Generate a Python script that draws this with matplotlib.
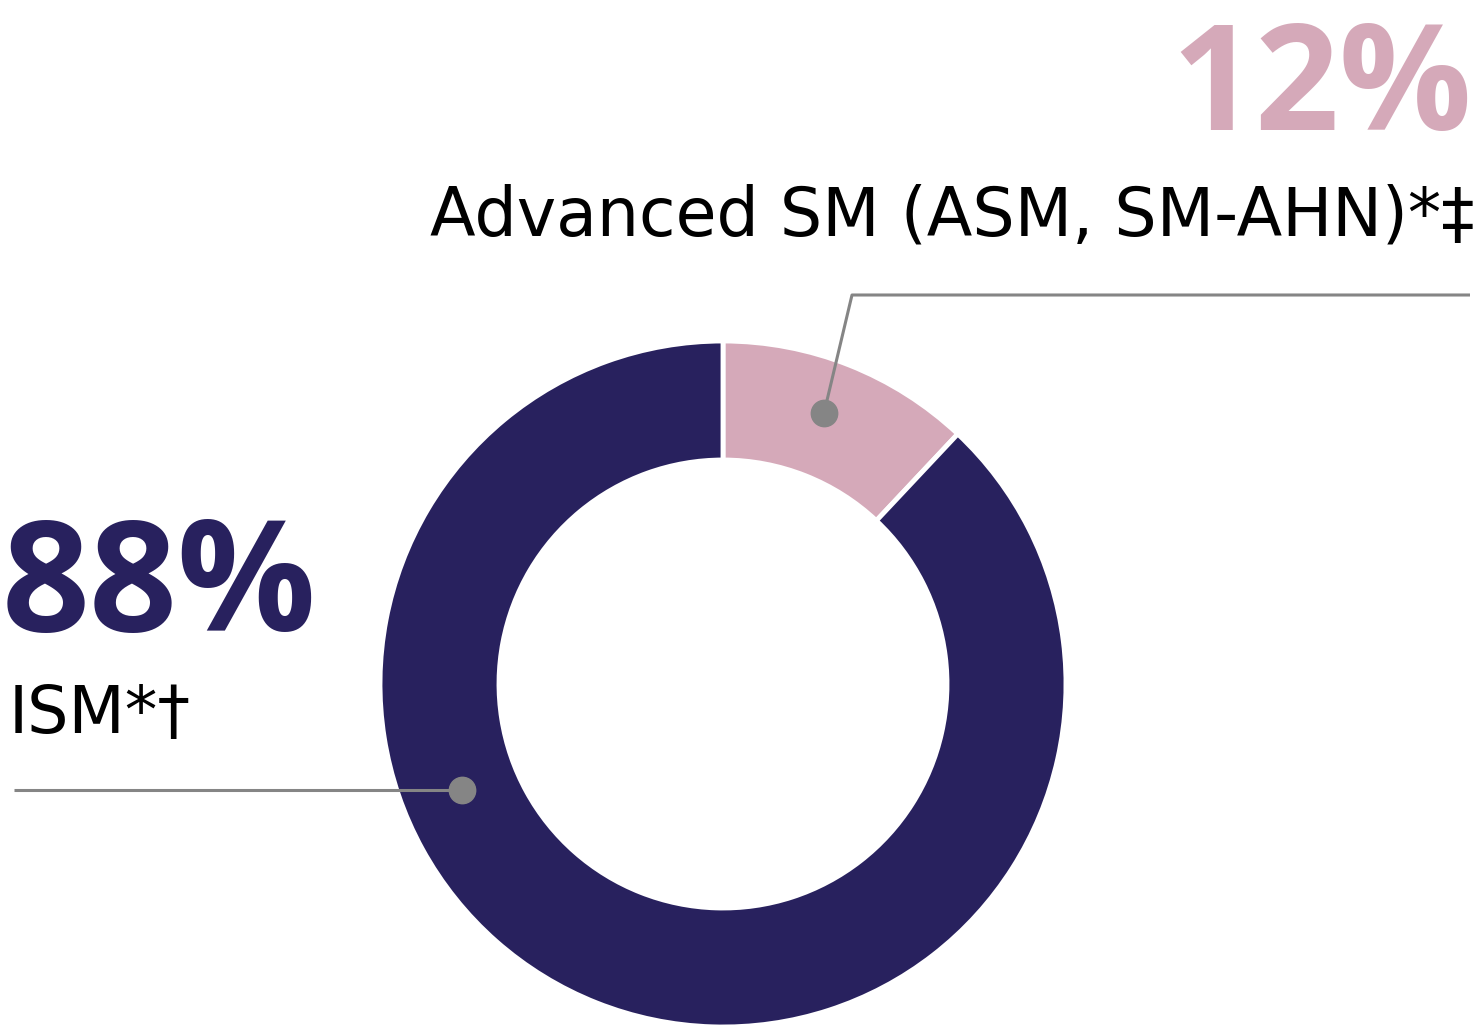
import matplotlib
matplotlib.use("Agg")
import matplotlib.pyplot as plt

categories = ["Advanced SM (ASM, SM-AHN)*‡", "ISM*†"]
values = [12, 88]
pct_labels = ["12%", "88%"]
colors = ["#d5a9b9", "#28215e"]

W, H = 1476, 1026
fig = plt.figure(figsize=(W / 100, H / 100), dpi=100)
ax = fig.add_axes([0, 0, 1, 1])

cx, cy = 723, H - 684
R, r_in = 343, 224
ax.pie(values, colors=colors, startangle=90, counterclock=False,
       center=(cx, cy), radius=R, frame=True,
       wedgeprops=dict(width=R - r_in, edgecolor="white", linewidth=3.5))
ax.set_xlim(0, W)
ax.set_ylim(0, H)
ax.set_aspect("equal")
ax.axis("off")

font = "DejaVu Sans"
pfont = ["Open Sans", "DejaVu Sans"]
# top-right labels
ax.text(1472, H - 130, pct_labels[0], ha="right", va="baseline", fontsize=106,
        fontweight="bold", color=colors[0], family=pfont)
ax.text(1474, H - 235, categories[0], ha="right", va="baseline", fontsize=48,
        color="black", family=font)
# left labels
ax.text(2, H - 631, pct_labels[1], ha="left", va="baseline", fontsize=111,
        fontweight="bold", color=colors[1], family=pfont)
ax.text(9, H - 733, categories[1], ha="left", va="baseline", fontsize=47,
        color="black", family=font)

gray = "#858585"
# leader for ASM
ax.plot([824, 852, 1470], [H - 413, H - 295, H - 295], color=gray, lw=2.2,
        solid_capstyle="butt")
ax.plot([824], [H - 413], "o", color=gray, ms=19)
# leader for ISM
ax.plot([14, 462], [H - 790, H - 790], color=gray, lw=2.2, solid_capstyle="butt")
ax.plot([462], [H - 790], "o", color=gray, ms=19)

fig.savefig("out.png", dpi=100, facecolor="white")
